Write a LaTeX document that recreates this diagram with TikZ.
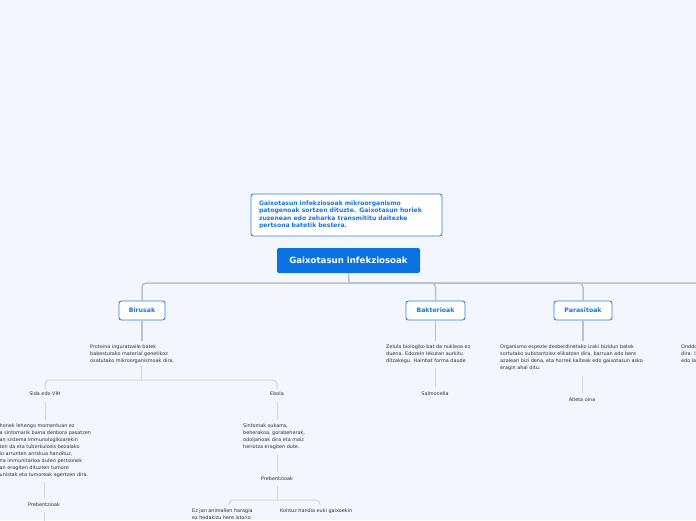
\documentclass[tikz,border=0pt]{standalone}
\usepackage{fontspec}
\setmainfont{DejaVu Sans}
\definecolor{bgc}{HTML}{F3F6FE}
\definecolor{mainblue}{HTML}{0B72E3}
\definecolor{bordblue}{HTML}{2F80E0}
\definecolor{textblue}{HTML}{1A73E0}
\definecolor{txt}{HTML}{2E2E2E}
\definecolor{conn1}{HTML}{BCC0C7}
\definecolor{conn2}{HTML}{D3D6DC}
\begin{document}
\begin{tikzpicture}[x=1pt,y=-1pt,
  topic/.style={draw=bordblue, line width=0.9pt, fill=white, rounded corners=2.5pt, text=textblue,
     font=\bfseries\fontsize{6.2}{8}\selectfont, minimum height=19pt, inner sep=0pt},
  mainnode/.style={fill=mainblue, rounded corners=2pt, text=white,
     font=\bfseries\fontsize{8.6}{10}\selectfont, minimum width=143pt, minimum height=25pt, inner sep=0pt},
  notebox/.style={draw=bordblue, line width=0.9pt, fill=white, rounded corners=2.5pt, text=textblue,
     font=\bfseries\fontsize{6.1}{7.4}\selectfont, align=left, text width=175pt,
     minimum width=191pt, minimum height=42pt, inner xsep=8pt, inner ysep=0pt},
  desc/.style={inner sep=0pt, align=left, font=\fontsize{4.9}{7}\selectfont, text=txt, anchor=north west},
  lbl/.style={inner sep=0pt, font=\fontsize{4.9}{7}\selectfont, text=txt},
  connA/.style={draw=conn1, line width=1.5pt, rounded corners=4pt},
  connB/.style={draw=conn2, line width=1pt, rounded corners=4pt}]
\useasboundingbox (0,0) rectangle (696,520);
\fill[bgc] (0,0) rectangle (696,520);
\begin{scope}
\clip (0,0) rectangle (696,520);

% nodes
\node[notebox] (note) at (346.5,215) {Gaixotasun infekziosoak mikroorganismo\\patogenoak sortzen dituzte. Gaixotasun horiek\\zuzenean edo zeharka transmititu daitezke\\pertsona batetik bestera.};
\node[mainnode] (main) at (348.5,260.5) {Gaixotasun infekziosoak};
\node[topic, minimum width=46pt] (bir) at (142,310.5) {Birusak};
\node[topic, minimum width=59pt] (bak) at (435.5,310.5) {Bakterioak};
\node[topic, minimum width=58pt] (par) at (583,310.5) {Parasitoak};
\coordinate (j0) at (349,283);
\coordinate (offRd) at (720,330);

% top connectors
\draw[connA] (main.south) -- (j0);
\draw[connA] (bir.north) |- (j0);
\draw[connA] (bak.north) |- (j0);
\draw[connA] (par.north) |- (j0);
\draw[connA] (offRd) |- (j0);

% Birusak branch
\node[desc] (birdesc) at (90,345) {Proteina inguratzaile batek\\babestutako material genetikoz\\osatutako mikroorganismoak dira.};
\draw[connA, shorten >=4pt] (bir.south) -- (bir.south |- birdesc.north);
\node[lbl] (sida) at (45,394) {Sida edo VIH};
\node[lbl] (ebola) at (277,394) {Ebola};
\coordinate (j1) at (141,380);
\draw[connB, shorten <=2pt] (birdesc.south -| j1) -- (j1);
\draw[connB, shorten <=3pt] (sida.north) |- (j1);
\draw[connB, shorten <=3pt] (ebola.north) |- (j1);

% Sida
\node[desc] (sidadesc) at (-0.5,424) {honek lehengo momentuan ez\\a sintomarik baina denbora pasatzen\\an sistema immunologikoarekin\\ten da eta tuberkulosis bezalako\\io arrunten arriskua handituz,\\na immunitarioa duten pertsonek\\an eragiten dituzten tumore\\unistak eta tumoreak agertzen dira.};
\draw[connB, shorten <=6pt, shorten >=4pt] (sida.south) -- (sida.south |- sidadesc.north);
\node[lbl] (prev1) at (44,505) {Prebentzioak};
\coordinate (p1d) at (44,530);
\draw[connB, shorten <=4pt, shorten >=5pt] (sidadesc.south -| prev1) -- (prev1.north);
\draw[connB, shorten <=5pt] (prev1.south) -- (p1d);

% Ebola
\node[desc] (ebdesc) at (243,424) {Sintomak sukarra,\\beherakoa, gorabeherak,\\odoljarioak dira eta maiz\\heriotza eragiten dute.};
\draw[connB, shorten <=6pt, shorten >=4pt] (ebola.south) -- (ebola.south |- ebdesc.north);
\node[lbl] (prev2) at (277,479) {Prebentzioak};
\draw[connB, shorten <=4pt, shorten >=5pt] (ebdesc.south -| prev2) -- (prev2.north);
\node[desc] (ezjan) at (192,509) {Ez jan animalien haragia\\ez hedakizu here istorio};
\node[desc] (kontuz) at (280,509) {Kontuz handia euki gaixoekin};
\coordinate (j2) at (277,500);
\coordinate (b1) at (229,505);
\coordinate (b2) at (320,505);
\draw[connB, shorten <=5pt] (prev2.south) -- (j2);
\draw[connB] (b1) |- (j2);
\draw[connB] (b2) |- (j2);

% Bakterioak
\node[desc] (bakdesc) at (386,345) {Zelula biologiko bat da nukleoa ez\\duena. Edozein lekutan aurkitu\\ditzakegu. Hainbat forma daude};
\draw[connA, shorten >=4pt] (bak.south) -- (bak.south |- bakdesc.north);
\node[lbl] (salm) at (435,394) {Salmonella};
\draw[connB, shorten <=4pt, shorten >=5pt] (bakdesc.south -| salm) -- (salm.north);

% Parasitoak
\node[desc] (pardesc) at (500,345) {Organismo espezie desberdinetako izaki bizidun batek\\sortutako substantziez elikatzen dira, barruan edo bere\\azalean bizi dena, eta horrek kalteak edo gaixotasun asko\\eragin ahal ditu.};
\draw[connA, shorten >=4pt] (par.south) -- (par.south |- pardesc.north);
\node[lbl] (atleta) at (582,400) {Atleta oina};
\draw[connB, shorten <=5pt, shorten >=5pt] (pardesc.south -| atleta) -- (atleta.north);

% right (cut off at the edge, as in the reference)
\node[desc] (onddesc) at (681,345) {Onddoak\\dira. Izaki\\edo landare};
\end{scope}
\end{tikzpicture}
\end{document}
